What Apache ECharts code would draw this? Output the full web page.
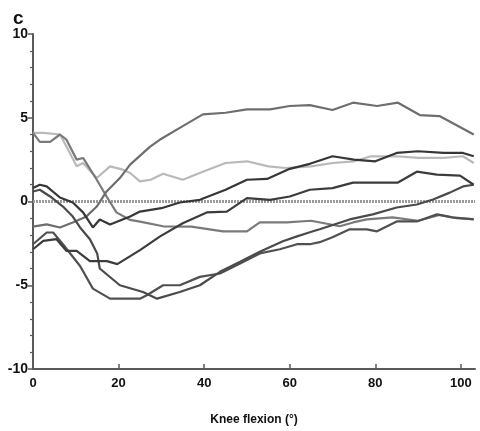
<!DOCTYPE html>
<html>
<head>
<meta charset="utf-8">
<script src="https://cdn.jsdelivr.net/npm/echarts@6/dist/echarts.min.js"></script>
<style>
html,body{margin:0;padding:0;background:#fff;}
#chart{width:480px;height:431px;}
</style>
</head>
<body>
<div id="chart"></div>
<script>
// ---- data ----
const xTicks = [0, 20, 40, 60, 80, 100];
const yTicks = [-10, -5, 0, 5, 10];

const l1x = [0, 2.4, 6.3, 7.8, 10.2, 11.7, 14.9, 18, 21, 22.7, 25, 27.5, 30.4, 35, 40, 45, 50, 55, 59, 65, 70, 75, 79, 85, 90, 96, 100.5, 103];
const l1y = [4.1, 4.1, 4.0, 3.3, 2.1, 2.3, 1.4, 2.1, 1.9, 1.7, 1.2, 1.3, 1.66, 1.3, 1.8, 2.3, 2.4, 2.1, 2.0, 2.1, 2.3, 2.4, 2.7, 2.7, 2.6, 2.6, 2.7, 2.3];

const l2x = [0, 1.6, 3.2, 6.3, 9.3, 11.7, 14, 15.6, 18, 22.7, 25, 30, 34.3, 39, 45, 50, 54.7, 60, 64.7, 70, 75, 80, 85, 90, 96, 100.5, 103];
const l2y = [0.8, 1.0, 0.9, 0.24, -0.06, -0.65, -1.55, -1.07, -1.37, -0.89, -0.6, -0.4, -0.06, 0.1, 0.7, 1.3, 1.35, 1.95, 2.25, 2.7, 2.5, 2.4, 2.9, 3.0, 2.9, 2.9, 2.7];

const l3x = [0, 2.4, 5.5, 7.8, 10.2, 13.3, 17.3, 19.7, 25, 29.7, 35, 40.6, 45.3, 50, 55.4, 60, 64.7, 70, 74.8, 85.3, 89.7, 94.4, 99.8, 103];
const l3y = [-2.85, -2.35, -2.25, -2.95, -2.95, -3.56, -3.56, -3.74, -2.9, -2.08, -1.3, -0.65, -0.6, 0.2, 0.1, 0.3, 0.7, 0.8, 1.13, 1.13, 1.78, 1.6, 1.54, 1.0];

const l4x = [0, 3.2, 6.3, 9.3, 12.5, 14.9, 17.2, 20.3, 22.7, 27.3, 29.7, 35, 39.7, 45, 50, 55.4, 60, 64.7, 70, 74.8, 80.4, 85.3, 90.4, 95, 103];
const l4y = [-1.5, -1.37, -1.55, -1.25, -0.89, -0.3, 0.6, 1.4, 2.2, 3.26, 3.7, 4.5, 5.2, 5.3, 5.5, 5.5, 5.7, 5.75, 5.46, 5.9, 5.7, 5.9, 5.16, 5.1, 4.0];

const l5x = [0, 1.6, 4, 6.3, 7.8, 10.2, 11.7, 14.9, 17.2, 19.5, 22.7, 25, 30.4, 37, 44.4, 50, 53, 59.3, 65, 71.7, 74.8, 78, 84, 90, 95, 99, 103];
const l5y = [4.1, 3.56, 3.56, 4.0, 3.7, 2.5, 2.6, 1.3, 0.3, -0.65, -1.1, -1.2, -1.48, -1.5, -1.78, -1.78, -1.25, -1.25, -1.15, -1.48, -1.25, -1.07, -0.95, -1.15, -0.8, -1.0, -1.05];

const l6x = [0, 3.2, 4.7, 7, 11, 14, 18, 25, 26.6, 30.4, 34.3, 39, 43.7, 48.4, 53, 57.7, 61.7, 64.7, 67, 70, 74, 78, 80.4, 85, 89.7, 94.4, 98, 103];
const l6y = [-2.55, -1.85, -1.85, -2.55, -3.85, -5.2, -5.8, -5.8, -5.6, -5.0, -5.0, -4.5, -4.3, -3.7, -3.1, -2.85, -2.55, -2.55, -2.43, -2.14, -1.66, -1.66, -1.78, -1.19, -1.19, -0.77, -0.95, -1.07];

const l7x = [0, 1.6, 4, 7, 9.3, 11, 13.3, 15, 15.6, 20.3, 25.7, 29, 34.3, 39, 43.7, 48.4, 53, 58.4, 61.7, 64.7, 67, 74, 79.4, 85, 89.7, 93.5, 97.4, 100.5, 103];
const l7y = [0.6, 0.7, 0.3, -0.3, -0.9, -1.55, -2.25, -3.1, -4.0, -5.0, -5.4, -5.8, -5.4, -5.0, -4.2, -3.6, -3.0, -2.37, -2.08, -1.84, -1.66, -1.07, -0.77, -0.36, -0.18, 0.12, 0.53, 0.9, 1.0];

const zeroX = [0, 103.3];
const zeroY = [0, 0];

// ---- build ----
function pairs(xs, ys) { return xs.map((x, i) => [x, ys[i]]); }

const lines = [
  { xs: l1x, ys: l1y, color: '#b9b9b9' },
  { xs: l5x, ys: l5y, color: '#7a7a7a' },
  { xs: l4x, ys: l4y, color: '#6e6e6e' },
  { xs: l6x, ys: l6y, color: '#505050' },
  { xs: l7x, ys: l7y, color: '#4a4a4a' },
  { xs: l3x, ys: l3y, color: '#3c3c3c' },
  { xs: l2x, ys: l2y, color: '#363636' }
];

const series = [{
  type: 'line',
  data: pairs(zeroX, zeroY),
  symbol: 'none',
  silent: true,
  lineStyle: { color: '#9a9a9a', width: 3, type: [2, 1] },
  z: 1
}].concat(lines.map(l => ({
  type: 'line',
  data: pairs(l.xs, l.ys),
  symbol: 'none',
  lineStyle: { color: l.color, width: 2.2 },
  z: 2
})));

const font = '"Liberation Sans", Arial, sans-serif';

const chart = echarts.init(document.getElementById('chart'), null, { renderer: 'canvas' });
chart.setOption({
  animation: false,
  backgroundColor: '#ffffff',
  title: {
    text: 'c', left: 8, top: 4,
    textStyle: { fontFamily: font, fontWeight: 'bold', fontSize: 19, color: '#111' }
  },
  grid: { left: 33, right: 5, top: 34, bottom: 60, containLabel: false },
  xAxis: {
    type: 'value',
    min: 0, max: 103.3,
    name: 'Knee flexion (°)',
    nameLocation: 'middle',
    nameGap: 45,
    nameTextStyle: { fontFamily: font, fontWeight: 'bold', fontSize: 12, color: '#111' },
    splitLine: { show: false },
    axisLine: { show: true, onZero: false, lineStyle: { color: '#5a5a5a', width: 2 } },
    axisTick: { show: true, inside: true, length: 5, customValues: xTicks, lineStyle: { color: '#5a5a5a', width: 1.5 } },
    axisLabel: { customValues: xTicks, margin: 8, fontFamily: font, fontWeight: 'bold', fontSize: 13, color: '#111' }
  },
  yAxis: {
    type: 'value',
    min: -10, max: 10, interval: 5,
    splitLine: { show: false },
    axisLine: { show: true, onZero: false, lineStyle: { color: '#5a5a5a', width: 2 } },
    axisTick: { show: true, inside: false, length: 5, lineStyle: { color: '#5a5a5a', width: 1.5 } },
    minorTick: { show: true, splitNumber: 5, length: 3, lineStyle: { color: '#5a5a5a', width: 1.2 } },
    axisLabel: {
      margin: 5, fontFamily: font, fontWeight: 'bold', fontSize: 14, color: '#111',
      customValues: yTicks
    }
  },
  series: series
});
</script>
</body>
</html>
